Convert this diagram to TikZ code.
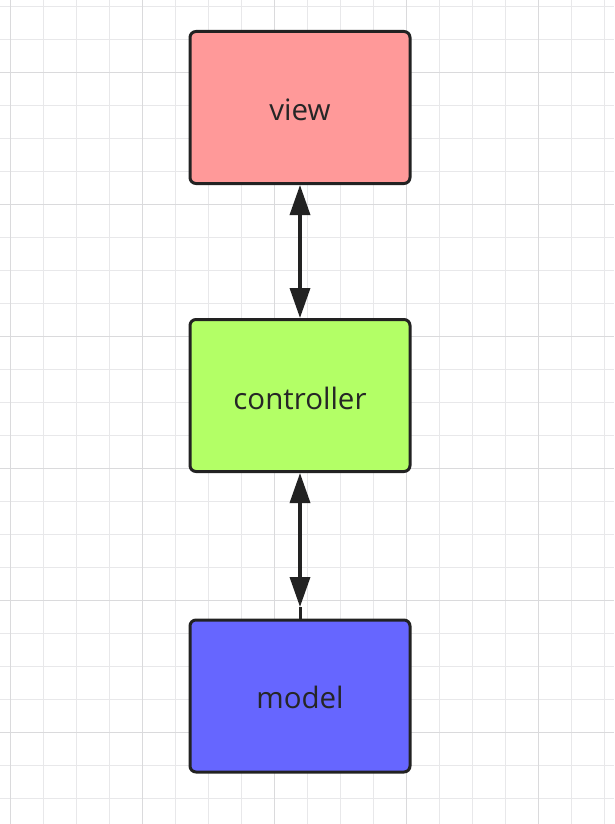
\documentclass[tikz,border=0pt]{standalone}
\usepackage{fontspec}
\setmainfont{Open Sans}
\usetikzlibrary{arrows.meta}
\definecolor{gridminor}{HTML}{E8E8EA}
\definecolor{gridmajor}{HTML}{DADADC}
\definecolor{viewfill}{HTML}{FF9999}
\definecolor{ctrlfill}{HTML}{B3FF66}
\definecolor{modelfill}{HTML}{6666FF}
\definecolor{edge}{HTML}{222222}
\definecolor{txt}{HTML}{262626}
\begin{document}
\begin{tikzpicture}[x=1pt,y=-1pt,
  box/.style={draw=edge, line width=3pt, rounded corners=6pt, minimum width=220pt, minimum height=152pt, inner sep=0pt, font=\fontsize{29.5}{34}\selectfont, text=txt},
  lbl/.style={font=\fontsize{29.5}{34}\selectfont, text=txt, inner sep=0pt},
  link/.style={draw=edge, line width=3.5pt, {Triangle[length=30pt,width=20pt]}-{Triangle[length=30pt,width=20pt]}}]
\useasboundingbox (0,0) rectangle (614,824);
\fill[white] (0,0) rectangle (614,824);
\foreach \i in {0,...,18} {\draw[gridminor, line width=0.9pt] ({10+33*\i},0) -- ({10+33*\i},824);}
\foreach \i in {0,...,25} {\draw[gridminor, line width=0.9pt] (0,{6+33*\i}) -- (614,{6+33*\i});}
\foreach \i in {0,...,4} {\draw[gridmajor, line width=0.9pt] ({10+132*\i},0) -- ({10+132*\i},824);}
\foreach \i in {0,...,6} {\draw[gridmajor, line width=0.9pt] (0,{72+132*\i}) -- (614,{72+132*\i});}
\node[box, fill=viewfill] (view) at (300,107.5) {};
\node[box, fill=ctrlfill] (ctrl) at (300,395.5) {};
\node[box, fill=modelfill] (model) at (300,696) {};
\node[lbl] (viewlbl) at ([yshift=-2.5pt]view.center) {view};
\node[lbl] (ctrllbl) at ([yshift=-2.5pt]ctrl.center) {controller};
\node[lbl] (modellbl) at ([yshift=-1pt]model.center) {model};
\coordinate (mstop) at (300,607);
\draw[link] (view.south) -- (ctrl.north);
\draw[link] (ctrl.south) -- (mstop);
\draw[draw=edge, line width=3pt] (mstop) -- (model.north);
\end{tikzpicture}
\end{document}
